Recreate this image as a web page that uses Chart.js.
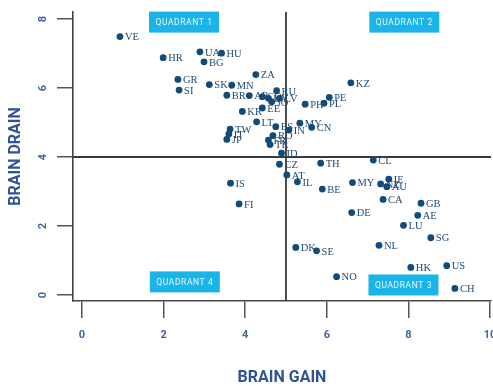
<!DOCTYPE html>
<html><head><meta charset="utf-8">
<script src="https://cdn.jsdelivr.net/npm/chart.js@4/dist/chart.umd.min.js"></script>
<style>html,body{margin:0;padding:0;background:#fff;overflow:hidden}#wrap{width:493px;height:386px;position:relative}</style>
</head><body><div id="wrap"><canvas id="c"></canvas></div>
<script>
const countries = ['VE','HR','UA','HU','BG','ZA','GR','SI','SK','MN','BR','AR','CO','UY','JO','RU','LV','KR','EE','PH','PL','PE','KZ','LT','ES','IN','MY','CN','TW','IT','JP','RO','FR','TR','ID','CZ','TH','CL','AT','IL','IS','FI','BE','MY','IE','NZ','AU','CA','DE','GB','AE','LU','SG','NL','DK','SE','NO','HK','US','CH'];
const brainGain = [0.93,1.99,2.89,3.42,2.99,4.26,2.35,2.38,3.12,3.67,3.55,4.10,4.42,4.57,4.65,4.77,4.84,3.93,4.42,5.47,5.93,6.06,6.59,4.28,4.75,5.07,5.34,5.63,3.63,3.60,3.55,4.68,4.57,4.61,4.89,4.84,5.85,7.14,5.02,5.28,3.64,3.85,5.89,6.63,7.52,7.32,7.47,7.38,6.61,8.31,8.23,7.88,8.55,7.28,5.24,5.75,6.24,8.06,8.94,9.14];
const brainDrain = [7.49,6.88,7.05,7.01,6.76,6.39,6.25,5.94,6.10,6.08,5.79,5.78,5.75,5.70,5.60,5.92,5.70,5.32,5.42,5.53,5.56,5.73,6.15,5.02,4.88,4.78,4.98,4.86,4.81,4.67,4.51,4.62,4.49,4.36,4.11,3.79,3.82,3.91,3.48,3.28,3.24,2.64,3.07,3.26,3.36,3.22,3.14,2.77,2.39,2.66,2.31,2.02,1.66,1.44,1.38,1.28,0.53,0.80,0.85,0.19];
const xTickValues = [0,2,4,6,8,10];
const yTickValues = [0,2,4,6,8];
const quadrantNames = ['QUADRANT 1','QUADRANT 2','QUADRANT 3','QUADRANT 4'];
const splitGain = 5;
const splitDrain = 4;

// layout of quadrant badges (data-unit anchors)
const badgeLayout = [
  {x:2.5, y:7.91}, {x:7.9, y:7.91}, {x:7.88, y:0.29}, {x:2.52, y:0.38}
];

const overlay = {
  id: 'overlay',
  beforeDatasetsDraw(chart) {
    const {ctx, chartArea: a, scales: {x, y}} = chart;
    ctx.save();
    ctx.strokeStyle = '#3a3a3a';
    ctx.lineWidth = 1.8;
    const px = x.getPixelForValue(splitGain);
    const py = y.getPixelForValue(splitDrain);
    ctx.beginPath();
    ctx.moveTo(px, a.top); ctx.lineTo(px, a.bottom);
    ctx.moveTo(a.left, py); ctx.lineTo(a.right, py);
    ctx.stroke();
    ctx.restore();
  },
  afterDatasetsDraw(chart) {
    const {ctx, scales: {x, y}} = chart;
    const meta = chart.getDatasetMeta(0);
    ctx.save();
    ctx.fillStyle = '#1f4872';
    ctx.font = '10.5px "Liberation Serif", serif';
    ctx.textAlign = 'left';
    ctx.textBaseline = 'middle';
    meta.data.forEach((pt, i) => {
      ctx.fillText(countries[i], pt.x + 5, pt.y + 1);
    });
    // quadrant badges
    const w = 70, h = 21;
    quadrantNames.forEach((name, i) => {
      const cx = x.getPixelForValue(badgeLayout[i].x);
      const cy = y.getPixelForValue(badgeLayout[i].y);
      ctx.fillStyle = '#1ab4e8';
      ctx.fillRect(cx - w/2, cy - h/2, w, h);
      ctx.fillStyle = '#e8f8ff';
      ctx.font = '8.5px Roboto, sans-serif';
      ctx.letterSpacing = '0.6px';
      ctx.textAlign = 'center';
      ctx.textBaseline = 'middle';
      ctx.fillText(name, cx, cy + 0.5);
    });
    ctx.restore();
  }
};

const tickFont = {family: 'Roboto, sans-serif', size: 11, weight: 'bold'};
const titleFont = {family: 'Roboto, sans-serif', size: 16, weight: 'bold', lineHeight: 1};

function zeroPad(s) { s.paddingLeft = 0; s.paddingRight = 0; s.paddingTop = 0; s.paddingBottom = 0; }

new Chart(document.getElementById('c'), {
  type: 'scatter',
  data: {
    datasets: [{
      data: brainGain.map((g, i) => ({x: g, y: brainDrain[i]})),
      backgroundColor: '#124a78',
      borderColor: '#124a78',
      pointRadius: 3.4,
      pointHoverRadius: 3.4,
      borderWidth: 0
    }]
  },
  options: {
    responsive: true,
    maintainAspectRatio: false,
    animation: false,
    events: [],
    layout: {autoPadding: false, padding: {top: 12, right: 2, left: 0, bottom: 0}},
    plugins: {legend: {display: false}, tooltip: {enabled: false}},
    scales: {
      x: {
        type: 'linear', min: -0.2206, max: 10.025,
        afterBuildTicks: s => { s.ticks = xTickValues.map(v => ({value: v})); },
        afterFit: s => { s.height = 85; zeroPad(s); },
        grid: {drawOnChartArea: false, drawTicks: true, tickLength: 17, color: '#555', lineWidth: 1.5},
        border: {display: true, color: '#444', width: 1.6},
        ticks: {padding: 11, color: '#4663a0', font: tickFont, minRotation: 0, maxRotation: 0, autoSkip: false},
        title: {display: true, text: 'BRAIN GAIN', color: '#2f5496', font: titleFont, padding: {top: 0, bottom: 0}}
      },
      y: {
        type: 'linear', min: -0.174, max: 8.203,
        afterBuildTicks: s => { s.ticks = yTickValues.map(v => ({value: v})); },
        afterFit: s => { s.width = 73; zeroPad(s); },
        grid: {drawOnChartArea: false, drawTicks: true, tickLength: 16, color: '#555', lineWidth: 1.5},
        border: {display: true, color: '#444', width: 1.6},
        ticks: {padding: 11, color: '#4663a0', font: tickFont, minRotation: 90, maxRotation: 90, crossAlign: 'center', autoSkip: false},
        title: {display: true, text: 'BRAIN DRAIN', color: '#2f5496', font: titleFont, padding: {top: 8, bottom: 0}}
      }
    }
  },
  plugins: [overlay]
});
</script>
</body></html>
